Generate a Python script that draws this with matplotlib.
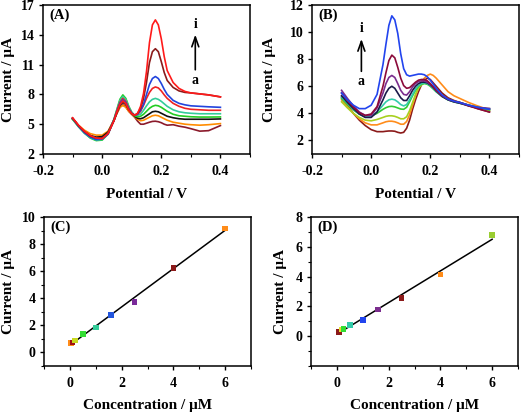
import matplotlib
matplotlib.use("Agg")
import matplotlib.pyplot as plt
import numpy as np
from matplotlib.ticker import MultipleLocator

plt.rcParams['font.family'] = ['Liberation Serif', 'DejaVu Serif']
plt.rcParams['font.weight'] = 'bold'

# ---------------- Data ----------------
potential = [-0.10, -0.08, -0.06, -0.04, -0.02, 0.00, 0.02, 0.04, 0.05, 0.06, 0.07,
             0.08, 0.09, 0.10, 0.11, 0.12, 0.13, 0.14, 0.15, 0.16, 0.17, 0.18,
             0.19, 0.20, 0.21, 0.22, 0.24, 0.26, 0.28, 0.30, 0.33, 0.36, 0.40]

# Panel A curves (a -> i)
A_a = [5.6, 4.85, 4.25, 3.85, 3.6, 3.6, 4.2, 5.4, 6.1, 6.7, 6.95, 6.75, 6.3, 6.0,
       5.7, 5.3, 5.0, 5.0, 5.1, 5.2, 5.28, 5.3, 5.25, 5.15, 5.0, 4.9, 4.95, 4.8, 4.7, 4.55, 4.3, 4.35, 4.86]
A_b = [5.5, 4.9, 4.4, 4.05, 3.9, 3.9, 4.3, 5.4, 6.1, 6.7, 6.9, 6.7, 6.3, 6.0,
       5.75, 5.5, 5.35, 5.4, 5.55, 5.7, 5.85, 5.9, 5.85, 5.7, 5.55, 5.4, 5.2, 5.1, 5.0, 4.95, 4.9, 4.95, 5.06]
A_c = [5.55, 4.85, 4.25, 3.85, 3.7, 3.75, 4.2, 5.4, 6.2, 6.9, 7.2, 7.0, 6.5, 6.1,
       5.8, 5.6, 5.55, 5.65, 5.85, 6.05, 6.25, 6.3, 6.25, 6.1, 5.95, 5.8, 5.65, 5.55, 5.5, 5.5, 5.5, 5.5, 5.53]
A_d = [5.5, 4.75, 4.1, 3.6, 3.35, 3.4, 4.0, 5.5, 6.5, 7.5, 7.95, 7.6, 6.8, 6.2,
       5.85, 5.75, 5.8, 6.0, 6.3, 6.6, 6.8, 6.9, 6.85, 6.7, 6.5, 6.3, 6.0, 5.85, 5.8, 5.75, 5.72, 5.72, 5.73]
A_e = [5.5, 4.75, 4.1, 3.65, 3.4, 3.45, 4.05, 5.5, 6.45, 7.4, 7.8, 7.5, 6.75, 6.2,
       5.9, 5.9, 6.0, 6.4, 6.85, 7.25, 7.5, 7.6, 7.5, 7.3, 7.05, 6.8, 6.45, 6.25, 6.15, 6.1, 6.05, 6.05, 6.05]
A_f = [5.6, 4.85, 4.2, 3.75, 3.5, 3.5, 4.05, 5.45, 6.35, 7.2, 7.6, 7.3, 6.6, 6.1,
       5.9, 6.0, 6.3, 6.9, 7.6, 8.2, 8.6, 8.75, 8.65, 8.35, 7.95, 7.6, 7.1, 6.8, 6.6, 6.5, 6.45, 6.4, 6.4]
A_g = [5.6, 4.8, 4.15, 3.7, 3.45, 3.5, 4.0, 5.4, 6.3, 7.1, 7.45, 7.2, 6.55, 6.1,
       5.9, 6.0, 6.4, 7.0, 8.0, 9.0, 9.6, 9.8, 9.6, 9.1, 8.5, 8.0, 7.4, 7.1, 6.95, 6.85, 6.8, 6.75, 6.7]
A_h = [5.6, 4.85, 4.25, 3.8, 3.6, 3.6, 4.1, 5.35, 6.2, 6.95, 7.25, 7.0, 6.45, 6.05,
       5.9, 6.1, 6.6, 7.6, 9.2, 11.2, 12.3, 12.6, 12.3, 11.3, 10.2, 9.4, 8.7, 8.35, 8.2, 8.15, 8.05, 7.95, 7.75]
A_i = [5.65, 4.9, 4.3, 3.85, 3.6, 3.55, 4.05, 5.35, 6.25, 7.0, 7.35, 7.1, 6.45, 6.05,
       5.9, 6.1, 6.8, 8.1, 10.3, 13.2, 15.0, 15.5, 15.0, 13.6, 11.8, 10.4, 9.2, 8.6, 8.3, 8.15, 8.05, 7.95, 7.75]
A_curves = [A_a, A_b, A_c, A_d, A_e, A_f, A_g, A_h, A_i]
A_colors = ['#8B1A2B', '#FF8C00', '#111111', '#22CC22', '#33CC99',
            '#EE2222', '#2244DD', '#8B1A1A', '#FF1A1A']

# Panel B curves (a -> i)
B_a = [5.2, 4.6, 4.0, 3.5, 3.1, 2.8, 2.65, 2.65, 2.68, 2.7, 2.7, 2.68, 2.6, 2.55,
       2.6, 2.9, 3.5, 4.3, 5.0, 5.6, 6.1, 6.45, 6.6, 6.5, 6.25, 6.0, 5.5, 5.15, 4.95, 4.8, 4.6, 4.35, 4.1]
B_b = [5.0, 4.5, 4.0, 3.6, 3.3, 3.15, 3.15, 3.3, 3.38, 3.42, 3.42, 3.38, 3.3, 3.2,
       3.2, 3.4, 3.9, 4.6, 5.3, 5.9, 6.3, 6.6, 6.8, 6.9, 6.8, 6.6, 6.1, 5.6, 5.3, 5.1, 4.8, 4.55, 4.25]
B_c = [4.85, 4.4, 4.0, 3.7, 3.5, 3.45, 3.55, 3.7, 3.78, 3.82, 3.82, 3.78, 3.7, 3.6,
       3.6, 3.75, 4.2, 4.8, 5.4, 5.85, 6.1, 6.25, 6.25, 6.15, 5.95, 5.7, 5.3, 5.05, 4.9, 4.8, 4.6, 4.45, 4.2]
B_d = [5.1, 4.65, 4.25, 3.95, 3.8, 3.8, 4.0, 4.3, 4.42, 4.5, 4.52, 4.48, 4.4, 4.32,
       4.3, 4.45, 4.85, 5.3, 5.7, 6.0, 6.15, 6.2, 6.15, 6.0, 5.8, 5.6, 5.25, 5.0, 4.85, 4.75, 4.6, 4.45, 4.25]
B_e = [5.2, 4.75, 4.3, 3.95, 3.75, 3.8, 4.1, 4.6, 4.85, 5.0, 5.05, 5.0, 4.85, 4.65,
       4.55, 4.65, 5.0, 5.4, 5.8, 6.05, 6.2, 6.25, 6.2, 6.05, 5.85, 5.6, 5.25, 5.0, 4.85, 4.75, 4.6, 4.45, 4.3]
B_f = [5.3, 4.8, 4.35, 3.95, 3.7, 3.7, 4.1, 5.0, 5.5, 5.85, 6.0, 5.85, 5.5, 5.15,
       4.95, 4.95, 5.3, 5.7, 6.0, 6.2, 6.3, 6.3, 6.25, 6.1, 5.9, 5.65, 5.25, 5.0, 4.85, 4.75, 4.55, 4.4, 4.35]
B_g = [5.7, 5.1, 4.55, 4.1, 3.85, 3.85, 4.4, 5.5, 6.2, 6.65, 6.8, 6.65, 6.2, 5.7,
       5.4, 5.35, 5.6, 5.95, 6.2, 6.35, 6.4, 6.4, 6.3, 6.15, 5.95, 5.7, 5.3, 5.05, 4.9, 4.8, 4.6, 4.45, 4.35]
B_h = [5.5, 4.95, 4.45, 4.05, 3.85, 3.95, 4.5, 6.0, 7.0, 7.9, 8.3, 8.1, 7.4, 6.6,
       6.05, 5.85, 5.9, 6.1, 6.3, 6.45, 6.5, 6.5, 6.4, 6.2, 5.95, 5.7, 5.3, 5.05, 4.9, 4.8, 4.55, 4.35, 4.1]
B_i = [5.5, 5.0, 4.6, 4.35, 4.35, 4.6, 5.4, 7.6, 9.1, 10.5, 11.2, 10.9, 9.9, 8.4,
       7.3, 6.85, 6.75, 6.8, 6.85, 6.9, 6.9, 6.85, 6.7, 6.45, 6.15, 5.85, 5.35, 5.05, 4.9, 4.8, 4.6, 4.45, 4.3]
B_curves = [B_a, B_b, B_c, B_d, B_e, B_f, B_g, B_h, B_i]
B_colors = ['#8B1A1A', '#FF8C1A', '#A8D020', '#33CC33', '#33CCAA',
            '#1A1A4A', '#7B2D8E', '#8B0A3A', '#2244EE']

# Panel C calibration
C_conc = [0.05, 0.1, 0.2, 0.5, 1.0, 1.6, 2.5, 4.0, 6.0]
C_curr = [0.69, 0.72, 0.88, 1.35, 1.85, 2.78, 3.72, 6.22, 9.15]
C_colors = ['#FF8C1A', '#A01010', '#C8D820', '#33DD33', '#33CC99',
            '#2255DD', '#7A2A9A', '#8B1A1A', '#FF8C1A']

# Panel D calibration
D_conc = [0.08, 0.2, 0.25, 0.5, 1.0, 1.6, 2.5, 4.0, 6.0]
D_curr = [0.30, 0.44, 0.47, 0.77, 1.10, 1.78, 2.56, 4.13, 6.78]
D_colors = ['#8B1A1A', '#E8E030', '#33DD33', '#33CCAA', '#2244EE',
            '#7B2D8E', '#8B1A1A', '#FF8C1A', '#9ACD32']

# ---------------- Figure ----------------
fig = plt.figure(figsize=(5.21, 4.18), dpi=100)
W, H = 521, 418

def make_ax(l, r, t, b):
    return fig.add_axes([l / W, 1 - b / H, (r - l) / W, (b - t) / H])

axA = make_ax(43, 250, 5, 154)
axB = make_ax(312, 519, 5, 154)
axC = make_ax(44, 251, 217, 366)
axD = make_ax(311, 518, 217, 366)

def style(ax):
    for s in ax.spines.values():
        s.set_linewidth(1.1)
    ax.tick_params(direction='out', length=3, width=1, labelsize=10,
                   top=False, right=False)
    ax.tick_params(axis='x', pad=5)
    ax.tick_params(axis='y', pad=3)
    ax.tick_params(which='minor', direction='out', length=2, width=0.8,
                   top=False, right=False)
    for lab in ax.get_xticklabels() + ax.get_yticklabels():
        lab.set_fontweight('bold')

lab_kw = dict(fontsize=11, fontweight='bold')
arrow_kw = dict(arrowstyle='->,head_length=0.7,head_width=0.25', lw=1.2, color='black')

# A
for y, c in zip(A_curves, A_colors):
    axA.plot(potential, y, color=c, lw=1.2)
axA.set_xlim(-0.2, 0.5)
axA.set_ylim(2, 17)
axA.xaxis.set_minor_locator(MultipleLocator(0.1))
axA.set_xticks([-0.2, 0.0, 0.2, 0.4])
axA.set_xticklabels(['-0.2', '0.0', '0.2', '0.4'])
axA.set_yticks([2, 5, 8, 11, 14, 17])
axA.set_xlabel('Potential / V', **lab_kw)
axA.set_ylabel('Current / μA', **lab_kw)
axA.xaxis.set_label_coords(0.5, -0.228)
axA.yaxis.set_label_coords(-0.133, 0.5)
axA.annotate('', xy=(0.315, 14.3), xytext=(0.315, 10.2), arrowprops=arrow_kw)
axA.text(0.315, 14.4, 'i', ha='center', va='bottom', fontsize=10, fontweight='bold')
axA.text(0.315, 10.1, 'a', ha='center', va='top', fontsize=10, fontweight='bold')
axA.text(0.03, 0.975, '(A)', transform=axA.transAxes, ha='left', va='top', fontsize=10.5, fontweight='bold')
style(axA)

# B
for y, c in zip(B_curves, B_colors):
    axB.plot(potential, y, color=c, lw=1.2)
axB.set_xlim(-0.2, 0.5)
axB.set_ylim(1, 12)
axB.xaxis.set_minor_locator(MultipleLocator(0.1))
axB.set_xticks([-0.2, 0.0, 0.2, 0.4])
axB.set_xticklabels(['-0.2', '0.0', '0.2', '0.4'])
axB.set_yticks([2, 4, 6, 8, 10, 12])
axB.set_xlabel('Potential / V', **lab_kw)
axB.set_ylabel('Current / μA', **lab_kw)
axB.xaxis.set_label_coords(0.5, -0.228)
axB.yaxis.set_label_coords(-0.176, 0.5)
axB.annotate('', xy=(-0.033, 9.7), xytext=(-0.033, 6.9), arrowprops=arrow_kw)
axB.text(-0.033, 9.8, 'i', ha='center', va='bottom', fontsize=10, fontweight='bold')
axB.text(-0.033, 6.8, 'a', ha='center', va='top', fontsize=10, fontweight='bold')
axB.text(0.03, 0.975, '(B)', transform=axB.transAxes, ha='left', va='top', fontsize=10.5, fontweight='bold')
style(axB)

# C
kC = np.polyfit(C_conc, C_curr, 1)
xl = np.array([min(C_conc), max(C_conc)])
axC.plot(xl, np.polyval(kC, xl), color='black', lw=1.1, zorder=1)
axC.scatter(C_conc, C_curr, c=C_colors, marker='s', s=16, zorder=2, linewidths=0)
axC.set_xlim(-1, 7)
axC.set_ylim(-1, 10)
axC.set_xticks([0, 2, 4, 6])
axC.xaxis.set_minor_locator(MultipleLocator(1))
axC.set_yticks([0, 2, 4, 6, 8, 10])
axC.yaxis.set_minor_locator(MultipleLocator(1))
axC.set_xlabel('Concentration / μM', **lab_kw)
axC.set_ylabel('Current / μA', **lab_kw)
axC.xaxis.set_label_coords(0.5, -0.221)
axC.yaxis.set_label_coords(-0.138, 0.5)
axC.text(0.03, 0.975, '(C)', transform=axC.transAxes, ha='left', va='top', fontsize=10.5, fontweight='bold')
style(axC)

# D
kD = np.polyfit(D_conc, D_curr, 1)
xl = np.array([min(D_conc), max(D_conc)])
axD.plot(xl, np.polyval(kD, xl), color='black', lw=1.1, zorder=1)
axD.scatter(D_conc, D_curr, c=D_colors, marker='s', s=16, zorder=2, linewidths=0)
axD.set_xlim(-1, 7)
axD.set_ylim(-2, 8)
axD.set_xticks([0, 2, 4, 6])
axD.xaxis.set_minor_locator(MultipleLocator(1))
axD.set_yticks([0, 2, 4, 6, 8])
axD.yaxis.set_minor_locator(MultipleLocator(1))
axD.set_xlabel('Concentration / μM', **lab_kw)
axD.set_ylabel('Current / μA', **lab_kw)
axD.xaxis.set_label_coords(0.5, -0.221)
axD.yaxis.set_label_coords(-0.114, 0.5)
axD.text(0.03, 0.975, '(D)', transform=axD.transAxes, ha='left', va='top', fontsize=10.5, fontweight='bold')
style(axD)

fig.savefig('out.png', dpi=100)
